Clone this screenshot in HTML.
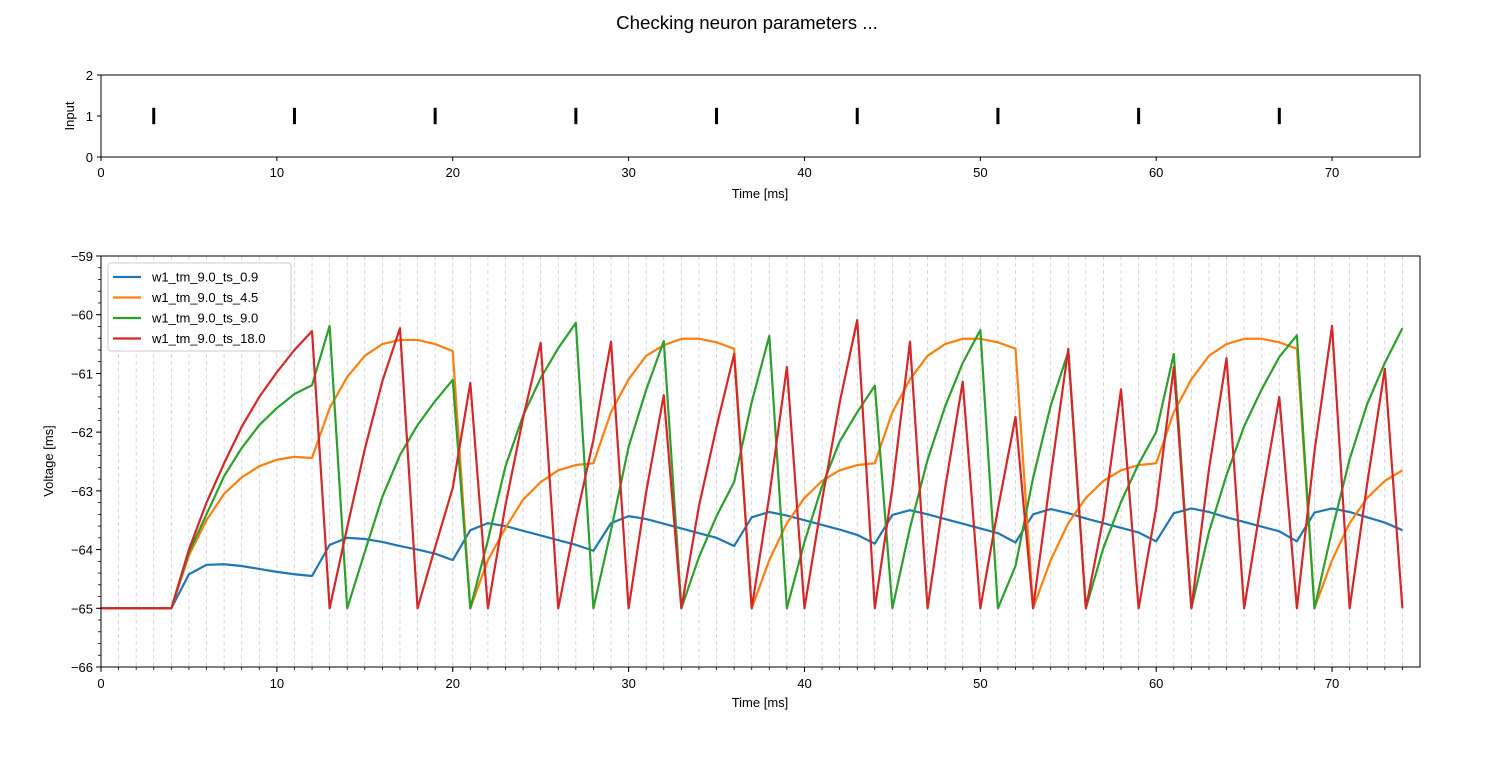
<!DOCTYPE html>
<html><head><meta charset="utf-8">
<style>
body{margin:0;background:#fff;}
svg{display:block;font-family:"Liberation Sans","DejaVu Sans",sans-serif;}
</style></head>
<body>
<svg id="chart" width="1500" height="760" viewBox="0 0 1500 760">
<text x="747" y="29" text-anchor="middle" font-size="18.7">Checking neuron parameters ...</text>
<g id="topPanel"></g>
<g id="botPanel"></g>
</svg>
<script>
const spikeTimes=[3,11,19,27,35,43,51,59,67];
const inputTicks=[0,1,2];
const xTicks=[0,10,20,30,40,50,60,70];
const vTicks=[-66,-65,-64,-63,-62,-61,-60,-59];
const seriesNames=["w1_tm_9.0_ts_0.9","w1_tm_9.0_ts_4.5","w1_tm_9.0_ts_9.0","w1_tm_9.0_ts_18.0"];
const seriesColors=["#1f77b4","#ff7f0e","#2ca02c","#d62728"];
const blue=[-65,-65,-65,-65,-65,-64.42,-64.26,-64.25,-64.28,-64.33,-64.38,-64.42,-64.45,-63.92,-63.80,-63.82,-63.87,-63.94,-64.0,-64.07,-64.18,-63.67,-63.55,-63.6,-63.68,-63.76,-63.84,-63.92,-64.02,-63.55,-63.43,-63.48,-63.56,-63.64,-63.72,-63.80,-63.94,-63.45,-63.36,-63.42,-63.5,-63.58,-63.66,-63.75,-63.9,-63.41,-63.33,-63.4,-63.48,-63.56,-63.64,-63.72,-63.88,-63.4,-63.31,-63.38,-63.47,-63.55,-63.63,-63.71,-63.86,-63.38,-63.3,-63.36,-63.45,-63.53,-63.61,-63.69,-63.86,-63.37,-63.3,-63.36,-63.45,-63.54,-63.67];
const orange=[-65,-65,-65,-65,-65,-64.1,-63.5,-63.05,-62.77,-62.58,-62.47,-62.42,-62.44,-61.59,-61.06,-60.7,-60.5,-60.43,-60.43,-60.5,-60.62,-65,-64.18,-63.63,-63.15,-62.85,-62.65,-62.56,-62.53,-61.66,-61.1,-60.7,-60.52,-60.41,-60.41,-60.47,-60.58,-65,-64.18,-63.55,-63.12,-62.83,-62.65,-62.56,-62.53,-61.66,-61.1,-60.7,-60.5,-60.41,-60.41,-60.47,-60.58,-65,-64.18,-63.55,-63.12,-62.83,-62.65,-62.56,-62.53,-61.66,-61.1,-60.7,-60.5,-60.41,-60.41,-60.47,-60.58,-65,-64.18,-63.55,-63.12,-62.83,-62.65];
const green=[-65,-65,-65,-65,-65,-64.05,-63.4,-62.75,-62.27,-61.88,-61.59,-61.35,-61.2,-60.19,-65,-64.04,-63.1,-62.39,-61.88,-61.47,-61.11,-65,-63.84,-62.58,-61.72,-61.08,-60.57,-60.14,-65,-63.67,-62.25,-61.28,-60.45,-65,-64.13,-63.43,-62.85,-61.49,-60.36,-65,-63.87,-62.92,-62.16,-61.66,-61.21,-65,-63.63,-62.47,-61.56,-60.82,-60.26,-65,-64.28,-62.78,-61.55,-60.63,-65,-63.97,-63.19,-62.54,-62.0,-60.67,-65,-63.7,-62.73,-61.9,-61.27,-60.72,-60.35,-65,-63.67,-62.46,-61.52,-60.82,-60.23];
const red=[-65,-65,-65,-65,-65,-64.0,-63.2,-62.53,-61.91,-61.4,-60.98,-60.6,-60.28,-65,-63.62,-62.29,-61.13,-60.23,-65,-63.96,-62.95,-61.16,-65,-63.24,-61.76,-60.48,-65,-63.5,-62.13,-60.46,-65,-63.02,-61.37,-65,-63.26,-61.91,-60.67,-65,-63.09,-60.89,-65,-63.16,-61.5,-60.09,-65,-62.95,-60.46,-65,-62.95,-61.14,-65,-63.31,-61.74,-65,-62.75,-60.58,-65,-63.45,-61.27,-65,-63.29,-60.89,-65,-62.63,-60.74,-65,-63.14,-61.4,-65,-62.33,-60.19,-65,-62.87,-60.92,-65];
const allSeries=[blue,orange,green,red];

const NS="http://www.w3.org/2000/svg";
function mk(tag,attrs,parent){const e=document.createElementNS(NS,tag);for(const k in attrs)e.setAttribute(k,attrs[k]);parent.appendChild(e);return e;}
const L=101,R=1420;
const xs=t=>L+(t/75)*(R-L);
const yTop=v=>157-(v/2)*82;
const yBot=v=>256+(-59-v)/7*411;

// top panel
const topG=document.getElementById('topPanel');
spikeTimes.forEach(t=>{
  const l=mk('line',{x1:xs(t),x2:xs(t),y1:yTop(1.2),y2:yTop(0.8),stroke:'#000','stroke-width':3},topG);
  
  
});
const f1=mk('rect',{x:L,y:75,width:R-L,height:82,fill:'none',stroke:'#000','stroke-width':1},topG);


inputTicks.forEach(v=>{
  mk('line',{x1:L-4,x2:L,y1:yTop(v),y2:yTop(v),stroke:'#000'},topG);
  const t=mk('text',{x:L-8,y:yTop(v)+5,'text-anchor':'end','font-size':13},topG);t.textContent=v;
  
  
});
xTicks.forEach(v=>{
  mk('line',{x1:xs(v),x2:xs(v),y1:157,y2:161,stroke:'#000'},topG);
  const t=mk('text',{x:xs(v),y:177,'text-anchor':'middle','font-size':13},topG);t.textContent=v;
  
  
});
let t1=mk('text',{x:760,y:198,'text-anchor':'middle','font-size':13},topG);t1.textContent='Time [ms]';


let t2=mk('text',{x:74,y:116,'text-anchor':'middle','font-size':13,transform:'rotate(-90 74 116)'},topG);t2.textContent='Input';



// bottom panel
const botG=document.getElementById('botPanel');
for(let t=1;t<75;t++){
  mk('line',{x1:xs(t),x2:xs(t),y1:256,y2:667,stroke:'#b0b0b0','stroke-width':0.8,'stroke-dasharray':'4,3',opacity:0.6},botG);
  mk('line',{x1:xs(t),x2:xs(t),y1:667,y2:670,stroke:'#000','stroke-width':0.8},botG);
}
for(let v=-66;v<=-59.001;v+=0.2){mk('line',{x1:L-3,x2:L,y1:yBot(v),y2:yBot(v),stroke:'#000','stroke-width':0.8},botG);}
const clip=mk('clipPath',{id:'cp'},botG);mk('rect',{x:L,y:256,width:R-L,height:411},clip);
const lines=mk('g',{'clip-path':'url(#cp)'},botG);
allSeries.forEach((s,i)=>{
  const p=mk('polyline',{points:s.map((v,t)=>xs(t)+','+yBot(v)).join(' '),fill:'none',stroke:seriesColors[i],'stroke-width':2.2,'stroke-linejoin':'round'},lines);
  
  
});
const f2=mk('rect',{x:L,y:256,width:R-L,height:411,fill:'none',stroke:'#000','stroke-width':1},botG);


vTicks.forEach(v=>{
  mk('line',{x1:L-5,x2:L,y1:yBot(v),y2:yBot(v),stroke:'#000'},botG);
  const t=mk('text',{x:L-8,y:yBot(v)+5,'text-anchor':'end','font-size':13},botG);t.textContent='\u2212'+Math.abs(v);
  
  
});
xTicks.forEach(v=>{
  mk('line',{x1:xs(v),x2:xs(v),y1:667,y2:672,stroke:'#000'},botG);
  const t=mk('text',{x:xs(v),y:688,'text-anchor':'middle','font-size':13},botG);t.textContent=v;
  
  
});
let t3=mk('text',{x:760,y:707,'text-anchor':'middle','font-size':13},botG);t3.textContent='Time [ms]';


let t4=mk('text',{x:53,y:461,'text-anchor':'middle','font-size':13,transform:'rotate(-90 53 461)'},botG);t4.textContent='Voltage [ms]';


// legend
const lg=mk('g',{},botG);


mk('rect',{x:108,y:263,width:183,height:88,rx:3,fill:'#fff','fill-opacity':0.85,stroke:'#ccc'},lg);
seriesNames.forEach((n,i)=>{
  const y=277+i*20.5;
  mk('line',{x1:113,x2:141,y1:y,y2:y,stroke:seriesColors[i],'stroke-width':2.2},lg);
  const t=mk('text',{x:152,y:y+4.5,'font-size':13},lg);t.textContent=n;
  
  
});
</script>
</body></html>
